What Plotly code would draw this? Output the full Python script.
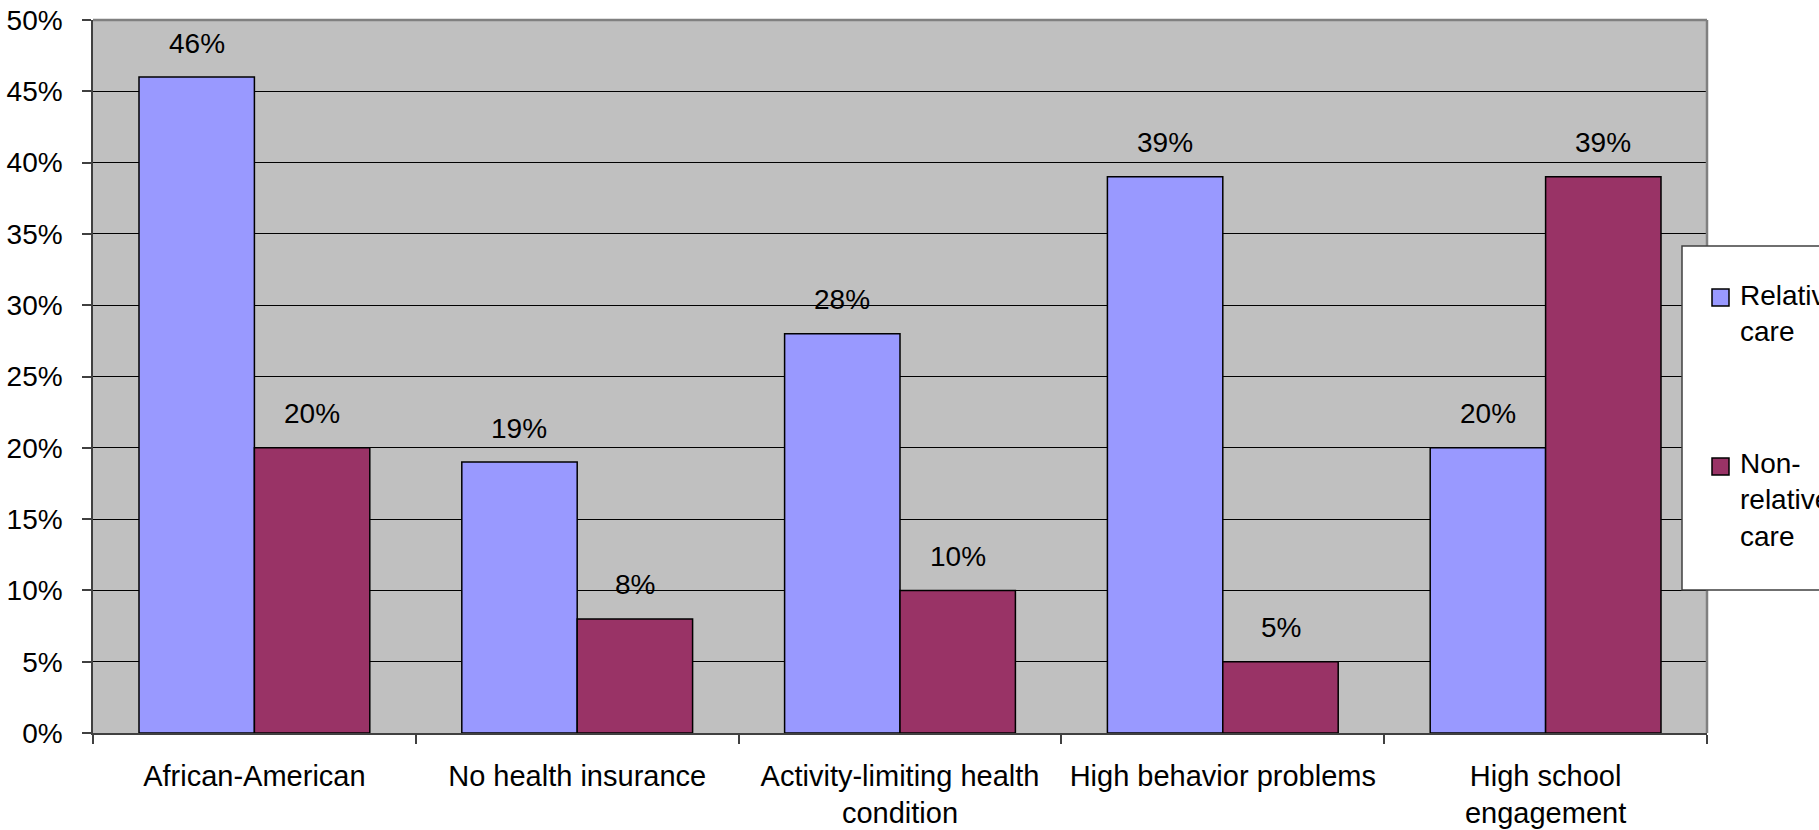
import plotly.graph_objects as go

categories = ["African-American", "No health insurance", "Activity-limiting health<br>condition",
              "High behavior problems", "High school<br>engagement"]
relative_care = [0.46, 0.19, 0.28, 0.39, 0.20]
non_relative_care = [0.20, 0.08, 0.10, 0.05, 0.39]
series_names = ["Relative<br>care", "Non-<br>relative<br>care"]
colors = ["#9999FF", "#993366"]

W, H = 1819, 830
L, R, T, B = 93, 1707, 20, 733
FONT = "Liberation Sans, Arial, sans-serif"
FS = 28

fig = go.Figure()
for vals, name, col in zip([relative_care, non_relative_care], series_names, colors):
    fig.add_trace(go.Bar(x=categories, y=vals, name=name, marker=dict(color=col, line=dict(color="black", width=1.5)),
                         showlegend=False))

# data labels
bar_half = (R - L) / len(categories) * (1 - 0.285) / 2
anns = []
for vals, sign in zip([relative_care, non_relative_care], [-1, 1]):
    for c, v in zip(categories, vals):
        anns.append(dict(x=c, y=v, xref="x", yref="y", text=f"{round(v*100)}%", showarrow=False,
                         xshift=sign * bar_half / 2, yshift=34, yanchor="middle",
                         font=dict(family=FONT, size=FS, color="black")))

def px(x):
    return (x - L) / (R - L)

def py(y):
    return (B - y) / (B - T)

shapes = [
    dict(type="line", xref="paper", yref="paper", x0=0, x1=1, y0=1, y1=1, line=dict(color="#808080", width=2.5), layer="above"),
    dict(type="line", xref="paper", yref="paper", x0=1, x1=1, y0=0, y1=1, line=dict(color="#808080", width=2.5), layer="above"),
    dict(type="rect", xref="paper", yref="paper", x0=px(1682), x1=px(1840), y0=py(590), y1=py(246),
         fillcolor="white", line=dict(color="#404040", width=1.5), layer="above"),
]
marker_tops = [289, 458]
for top, col in zip(marker_tops, colors):
    shapes.append(dict(type="rect", xref="paper", yref="paper", x0=px(1712), x1=px(1729), y0=py(top + 17), y1=py(top),
                       fillcolor=col, line=dict(color="black", width=1.5), layer="above"))
legend_centers = [313, 500]
for yc, name in zip(legend_centers, series_names):
    anns.append(dict(x=px(1738), y=py(yc), xref="paper", yref="paper", text=name, showarrow=False,
                     xanchor="left", yanchor="middle", align="left",
                     font=dict(family=FONT, size=FS, color="black")))

fig.update_layout(
    width=W, height=H,
    margin=dict(l=L, r=W - R, t=T, b=H - B, autoexpand=False),
    paper_bgcolor="white", plot_bgcolor="#C0C0C0",
    barmode="group", bargap=0.285, bargroupgap=0,
    font=dict(family=FONT, size=FS, color="black"),
    annotations=anns, shapes=shapes,
)
fig.update_xaxes(showgrid=False, showline=True, linecolor="#404040", linewidth=1.5,
                 ticks="outside", tickson="boundaries", ticklen=9, tickcolor="#404040", tickwidth=1.5,
                 tickfont=dict(family=FONT, size=29, color="black"), ticklabelstandoff=16)
fig.update_yaxes(range=[0, 0.5], dtick=0.05, tickformat=".0%", showgrid=True, gridcolor="black", gridwidth=1,
                 showline=True, linecolor="#404040", linewidth=1.5, zeroline=False,
                 ticks="outside", ticklen=9, tickcolor="#404040", tickwidth=1.5,
                 tickfont=dict(family=FONT, size=FS, color="black"), ticklabelstandoff=14)

fig.write_html("out.html")
